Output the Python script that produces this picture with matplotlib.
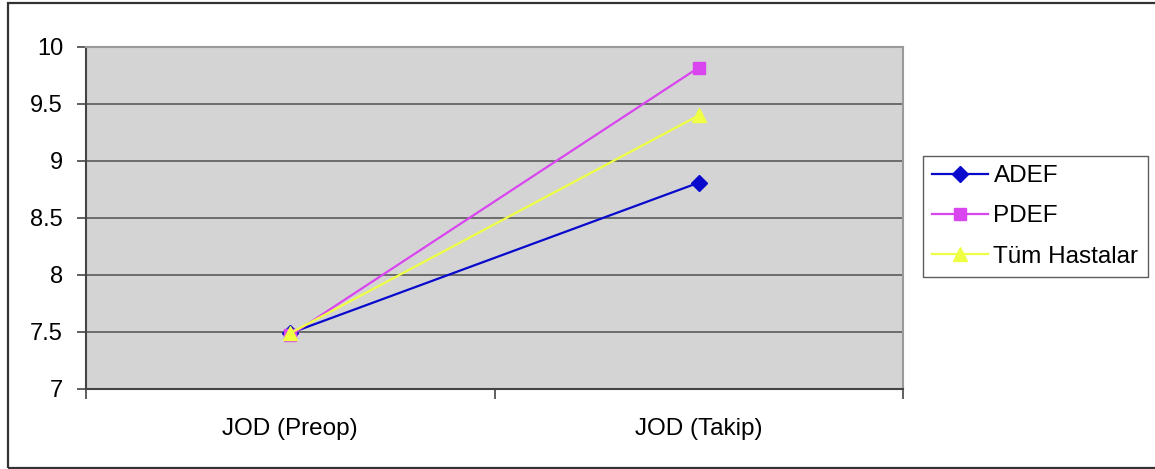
import matplotlib
matplotlib.use("Agg")
import matplotlib.pyplot as plt
from matplotlib.patches import Rectangle

plt.rcParams['font.family'] = ['Liberation Sans', 'DejaVu Sans']

categories = ["JOD (Preop)", "JOD (Takip)"]
adef = [7.49, 8.81]
pdef = [7.47, 9.82]
tum = [7.49, 9.40]
series_names = ["ADEF", "PDEF", "Tüm Hastalar"]
yticks = [7, 7.5, 8, 8.5, 9, 9.5, 10]
ytick_labels = ["7", "7.5", "8", "8.5", "9", "9.5", "10"]

W, H = 1155, 469
fig = plt.figure(figsize=(W / 100, H / 100), dpi=100)
ax = fig.add_axes([86 / W, (H - 389) / H, (903 - 86) / W, (389 - 47) / H])
ax.set_facecolor('#D4D4D4')

x = list(range(len(categories)))
ax.plot(x, adef, color='#0A0ACC', marker='D', markersize=8, lw=1.6, label=series_names[0], zorder=3)
ax.plot(x, pdef, color='#D946EF', marker='s', markersize=8.5, lw=1.6, label=series_names[1], zorder=3)
ax.plot(x, tum, color='#EEFF44', marker='^', markersize=10.5, lw=1.6, label=series_names[2], zorder=4)

ax.set_xlim(-0.5, len(categories) - 0.5)
ax.set_ylim(7, 10)
ax.set_yticks(yticks)
ax.set_yticklabels(ytick_labels)
ax.yaxis.grid(True, color='#5A5A5A', lw=1.2)
ax.set_axisbelow(True)

ax.set_xticks(x)
ax.set_xticklabels(categories)
ax.set_xticks([-0.5, 0.5, 1.5], minor=True)
ax.tick_params(axis='x', which='major', length=0, pad=21, labelsize=17.5)
ax.tick_params(axis='x', which='minor', length=7, width=1.2, color='#444444', direction='out')
ax.tick_params(axis='y', length=6.5, width=1.2, color='#444444', direction='out', pad=10, labelsize=17)

for s in ['left', 'bottom']:
    ax.spines[s].set_color('#444444')
    ax.spines[s].set_linewidth(1.5)
for s in ['top', 'right']:
    ax.spines[s].set_color('#9A9A9A')
    ax.spines[s].set_linewidth(1.5)

leg = fig.legend(loc='upper left', bbox_to_anchor=(923 / W, 1 - 156 / H),
                 frameon=True, fancybox=False, shadow=False, fontsize=17.5,
                 borderpad=0.38, labelspacing=0.75, handlelength=2.3,
                 handletextpad=0.22, borderaxespad=0)
leg.get_frame().set_edgecolor('#333333')
leg.get_frame().set_linewidth(1.0)

fig.patches.append(Rectangle((8 / W, 1.5 / H), 1.2, (466 - 1.5) / H,
                             transform=fig.transFigure, fill=False,
                             edgecolor='#333333', lw=1.6, clip_on=False))

fig.savefig('out.png', dpi=100)
